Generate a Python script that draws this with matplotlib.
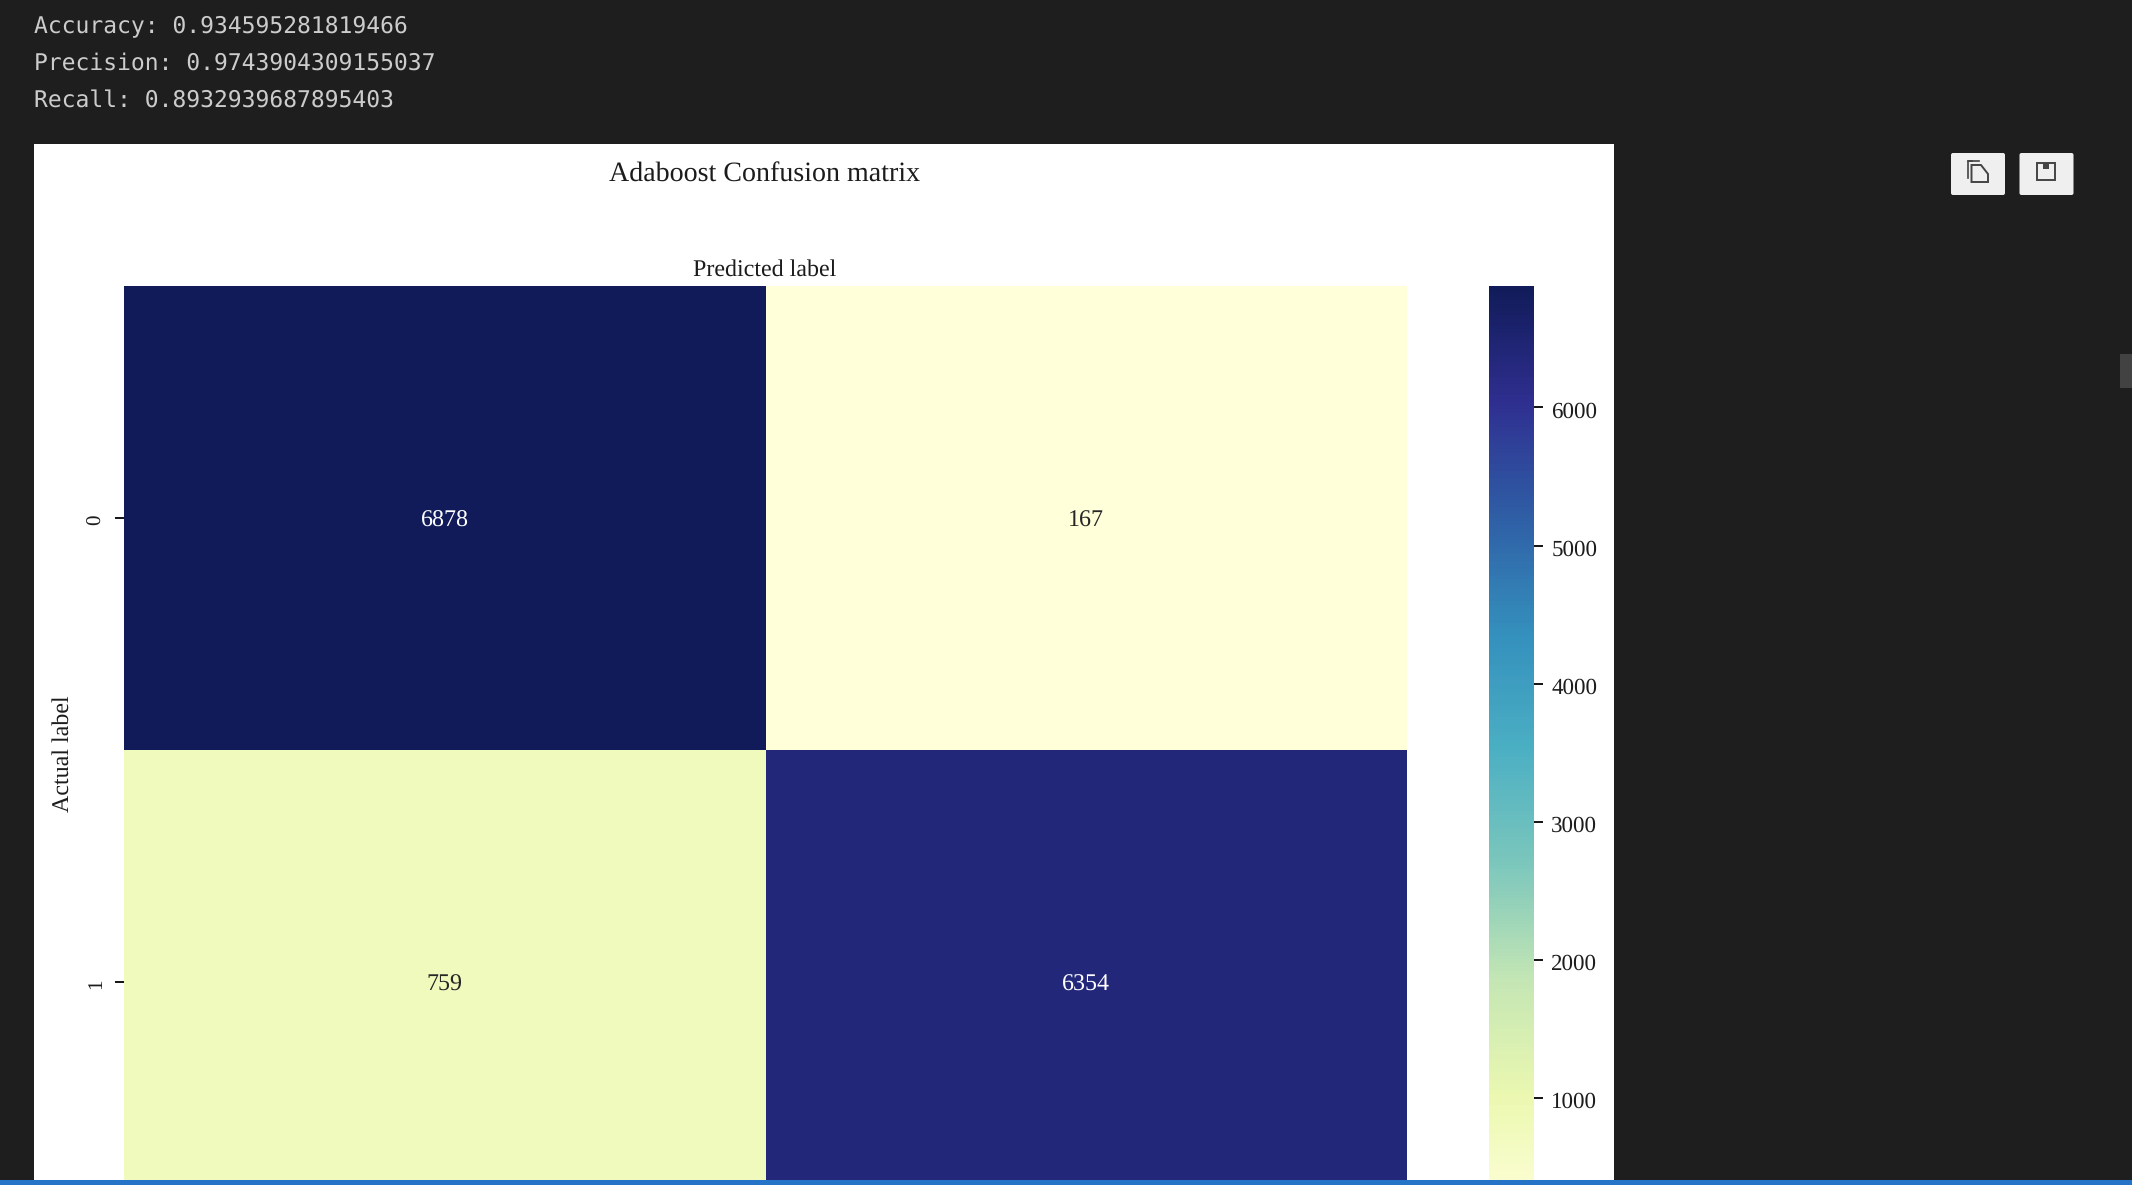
import matplotlib
matplotlib.use("Agg")
import matplotlib.pyplot as plt
from matplotlib.colors import LinearSegmentedColormap
from matplotlib.patches import Rectangle, FancyBboxPatch, Polygon
from matplotlib.transforms import ScaledTranslation
import numpy as np
import seaborn as sns

plt.rcParams["text.hinting"] = "no_hinting"
plt.rcParams["text.hinting_factor"] = 1

# Data
actual_labels = ["0", "1"]
row_0 = [6878, 167]
row_1 = [759, 6354]
metric_lines = ["Accuracy: 0.934595281819466",
                "Precision: 0.9743904309155037",
                "Recall: 0.8932939687895403"]
cbar_ticks = [1000, 2000, 3000, 4000, 5000, 6000]
title = "Adaboost Confusion matrix"
xlabel = "Predicted label"
ylabel = "Actual label"
palette = ["#ffffd9", "#ebf8b0", "#c4e6b4", "#7cc7bc", "#4bafc3",
           "#3490bd", "#2f5fa6", "#2f2f90", "#111b59"]

W, H = 2132, 1185
SERIF = "Liberation Serif"
BG = "#1e1e1e"
INK = "#1c1c1c"

fig = plt.figure(figsize=(W / 100, H / 100), dpi=100, facecolor=BG)
cmap = LinearSegmentedColormap.from_list("screen_ylgnbu", palette, N=256)


def axes_px(x0, y0, x1, y1, **kw):
    return fig.add_axes([x0 / W, 1 - y1 / H, (x1 - x0) / W, (y1 - y0) / H], **kw)


def nudge_down(artist, px):
    artist.set_transform(artist.get_transform() +
                         ScaledTranslation(0, -px / 100, fig.dpi_scale_trans))


# Background layer with the notebook chrome
back = axes_px(0, 0, W, H, zorder=0)
back.set_xlim(0, W)
back.set_ylim(H, 0)
back.axis("off")
back.add_patch(Rectangle((34, 144), 1580, 1041, fc="white", ec="none"))
for line, y in zip(metric_lines, [25.5, 63, 100]):
    back.text(34, y, line, family="DejaVu Sans Mono", fontsize=16.8, color="#cccccc",
              ha="left", va="center")

# Heatmap (runs past the bottom edge of the screenshot)
ax = axes_px(124, 286, 1407, 1213.4, zorder=1)
cax = axes_px(1489, 286, 1534, 1213.4, zorder=1)
matrix = np.array([row_0, row_1])
sns.heatmap(matrix, annot=True, fmt="g", cmap=cmap, ax=ax, cbar_ax=cax,
            annot_kws={"family": SERIF, "fontsize": 17},
            xticklabels=False, yticklabels=actual_labels)
for t in ax.texts:
    nudge_down(t, 3.5)
ax.set_ylabel("")
ax.tick_params(axis="y", length=6.5, width=1.3, pad=7, labelsize=15, labelcolor=INK)
for t in ax.get_yticklabels():
    t.set_family(SERIF)
    nudge_down(t, 2)
cax.set_yticks(cbar_ticks)
cax.tick_params(axis="y", length=6.5, width=1.3, pad=6, labelsize=16.5, labelcolor=INK)
for t in cax.get_yticklabels():
    t.set_family(SERIF)
    nudge_down(t, 2)

# Foreground layer
top = axes_px(0, 0, W, H, zorder=5)
top.set_xlim(0, W)
top.set_ylim(H, 0)
top.axis("off")
top.patch.set_alpha(0)
top.text(765, 175, title, family=SERIF, fontsize=20.2, color=INK, ha="center", va="center")
top.text(765, 270, xlabel, family=SERIF, fontsize=17, color=INK, ha="center", va="center")
top.text(63, 753.5, ylabel, family=SERIF, fontsize=17, color=INK, rotation=90,
         ha="center", va="center")
top.add_patch(Rectangle((0, 1180), W, 5, fc="#2674c8", ec="none"))
top.add_patch(Rectangle((2120, 354), 12, 34, fc="#424242", ec="none"))

# Toolbar buttons
for x0 in (1951, 2019.5):
    top.add_patch(FancyBboxPatch((x0 + 2, 155), 50, 38, boxstyle="round,pad=2",
                                 fc="#efefef", ec="none"))
icon = "#444444"
top.add_patch(Polygon([(1971.5, 165), (1981, 165), (1988, 174), (1988, 182), (1971.5, 182)],
                      closed=True, fc="none", ec=icon, lw=1.4))
top.plot([1968, 1968, 1971.5], [178, 161, 161], color=icon, lw=1.2)
top.plot([1968, 1979], [161, 161], color=icon, lw=1.2)
top.add_patch(Rectangle((2037, 163), 17.5, 17, fc="none", ec=icon, lw=1.4))
top.add_patch(Rectangle((2043, 163), 6, 6, fc=icon, ec="none"))

fig.savefig("out.png", dpi=100, facecolor=BG)
